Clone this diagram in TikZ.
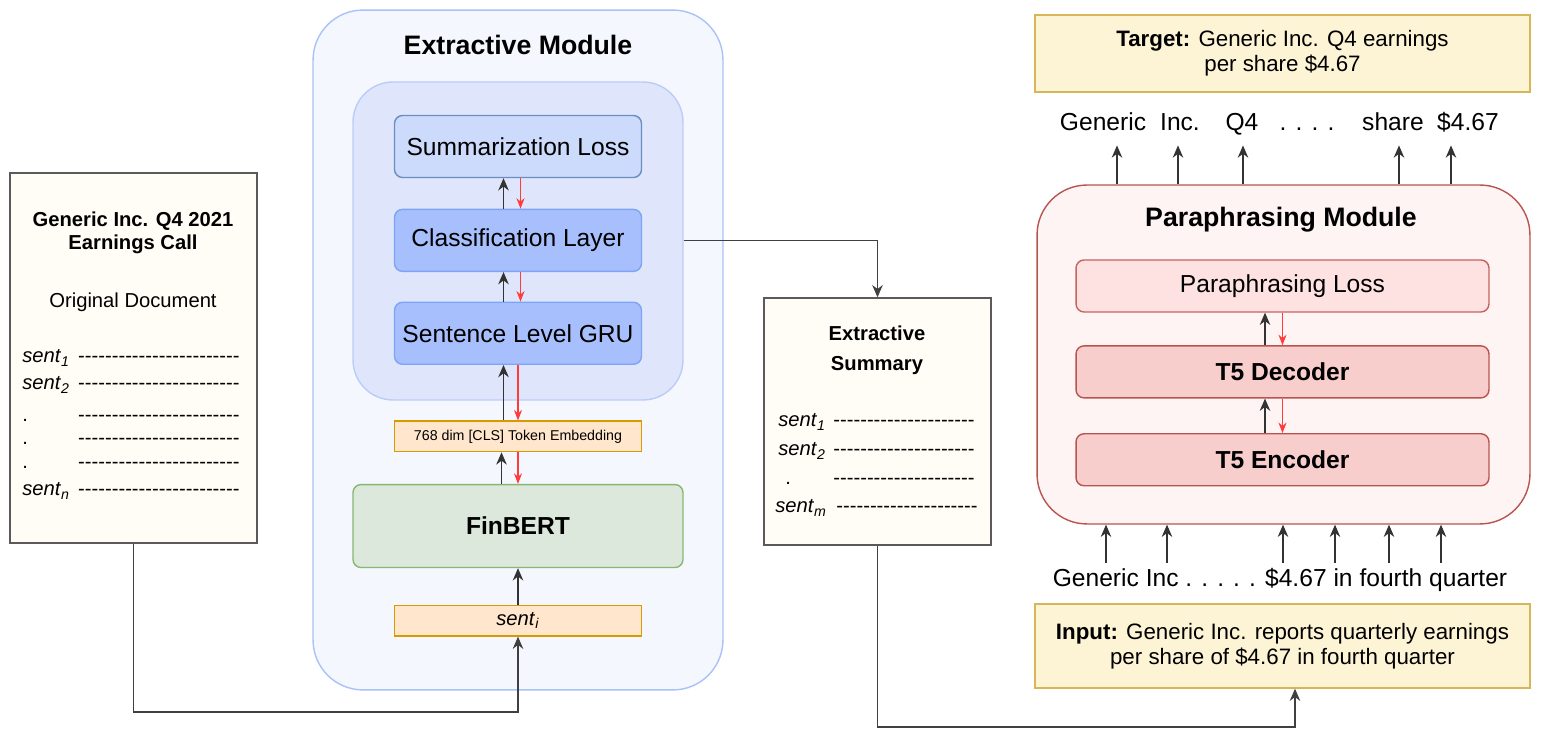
\documentclass[tikz,border=0pt]{standalone}
\usepackage{fontspec}
\setmainfont{Liberation Sans}
\usepackage{xcolor}
\usepackage{tikz}
\usetikzlibrary{arrows.meta,positioning,calc}

\definecolor{paperfill}{HTML}{FFFDF5}
\definecolor{paperline}{HTML}{5A5A5A}
\definecolor{extfill}{HTML}{F4F7FE}
\definecolor{extline}{HTML}{A9C2F7}
\definecolor{innerfill}{HTML}{DFE6FC}
\definecolor{innerline}{HTML}{BCCCF8}
\definecolor{lossfill}{HTML}{CCDAFC}
\definecolor{lossline}{HTML}{6C8EBF}
\definecolor{clsfill}{HTML}{A7BFFC}
\definecolor{clsline}{HTML}{7EA4F5}
\definecolor{embfill}{HTML}{FFE6CC}
\definecolor{embline}{HTML}{D79B00}
\definecolor{bertfill}{HTML}{DCE8DB}
\definecolor{bertline}{HTML}{88B770}
\definecolor{parafill}{HTML}{FFF4F4}
\definecolor{paraline}{HTML}{B85450}
\definecolor{plossfill}{HTML}{FEE1E1}
\definecolor{plossline}{HTML}{C4635F}
\definecolor{tfivefill}{HTML}{F8CECC}
\definecolor{notefill}{HTML}{FDF3D5}
\definecolor{noteline}{HTML}{D6B656}
\definecolor{gradred}{HTML}{FF3B3B}

\newcommand\modfont{\fontsize{15.2}{18}\selectfont\bfseries}
\newcommand\blkfont{\fontsize{14}{17}\selectfont}
\newcommand\docfont{\fontsize{11.5}{13}\selectfont}
\newcommand\notefont{\fontsize{12.7}{14.5}\selectfont}
\newcommand\embfont{\fontsize{8.1}{10}\selectfont}
\newcommand\sent[1]{\textit{sent}\textsubscript{\textit{#1}}}
\newcommand\dashrow[1]{\foreach\k in {1,...,#1}{-\kern0pt}}

\begin{document}
\begin{tikzpicture}[
    x=0.02cm, y=-0.02cm,
    every node/.style={inner sep=0pt, align=center},
    module/.style={rectangle, draw, rounded corners=1cm, line width=0.8pt},
    paper/.style={rectangle, draw=paperline, fill=paperfill, line width=0.8pt},
    block/.style={rectangle, draw, rounded corners=0.16cm, line width=0.8pt,
                  minimum width=4.94cm, minimum height=1.24cm, font=\blkfont},
    pblock/.style={block, minimum width=8.26cm, minimum height=1.04cm,
                   draw=paraline, fill=tfivefill},
    embbox/.style={rectangle, draw=embline, fill=embfill, line width=0.8pt,
                   minimum width=4.94cm, minimum height=0.61cm},
    note/.style={rectangle, draw=noteline, fill=notefill, line width=0.8pt,
                 minimum width=9.9cm, font=\notefont},
    row/.style={font=\docfont},
    tok/.style={font=\blkfont, text height=10pt, text depth=3pt, inner ysep=3pt},
    fwd/.style={-{Stealth[length=7pt,width=6pt]}, line width=0.6pt, draw=black!80},
    bwd/.style={-{Stealth[length=6pt,width=4.6pt]}, line width=0.6pt, draw=gradred},
    link/.style={-{Stealth[length=7pt,width=6pt]}, line width=0.6pt, draw=black!75},
]
\useasboundingbox (0,0) rectangle (1543,742);

% Original document
\node[paper, minimum width=4.94cm, minimum height=7.4cm] (doc) at (133.5,358) {};
\node[font=\docfont\bfseries] (doctitle) at (133,233) {Generic Inc. Q4 2021\\Earnings Call};
\node[font=\docfont] (doclabel) at (133,302) {Original Document};
\foreach \i/\y/\t in {1/363/\sent{1}, 2/390/\sent{2}, 3/422/., 4/445/., 5/469/., 6/496/\sent{n}} {
  \node[row, anchor=base west] (dl\i) at (22,\y) {\t};
  \node[row, anchor=base east] (dd\i) at (240,\y) {\dashrow{24}};
}

% Extractive module
\node[module, draw=extline, fill=extfill, minimum width=8.2cm, minimum height=13.6cm] (extr) at (518,350) {};
\node[font=\modfont] (extrtitle) at (518,45) {Extractive Module};
\node[module, rounded corners=0.8cm, draw=innerline, fill=innerfill,
      minimum width=6.6cm, minimum height=6.36cm] (inner) at (518,241) {};
\node[block, draw=lossline, fill=lossfill] (sloss) at (518,146.5) {Summarization Loss};
\node[block, draw=clsline, fill=clsfill, below=0.61cm of sloss] (cls) {Classification Layer};
\node[block, draw=clsline, fill=clsfill, below=0.59cm of cls] (gru) {Sentence Level GRU};
\node[embbox, font=\embfont, below=1.11cm of gru] (emb) {768 dim [CLS] Token Embedding};
\node[block, draw=bertline, fill=bertfill, minimum width=6.6cm, minimum height=1.66cm,
      font=\blkfont\bfseries, below=0.63cm of emb] (bert) {FinBERT};
\node[embbox, font=\docfont, below=0.73cm of bert] (senti) {\sent{i}};

% Extractive summary
\node[paper, minimum width=4.54cm, minimum height=4.94cm] (summ) at (877.5,421.5) {};
\node[font=\fontsize{11.5}{17}\selectfont\bfseries] (summtitle) at (877,350) {Extractive\\Summary};
\foreach \i/\y/\t/\lx/\rx in {1/427/\sent{1}/778/975, 2/456/\sent{2}/778/975, 3/485/./785/975, 4/513/\sent{m}/775/978} {
  \node[row, anchor=base west] (sl\i) at (\lx,\y) {\t};
  \node[row, anchor=base east] (sd\i) at (\rx,\y) {\dashrow{21}};
}

% Paraphrasing module
\node[note, minimum height=1.54cm] (target) at (1282.5,53.5) {\textbf{Target:} Generic Inc. Q4 earnings\\per share \$4.67};
\node[module, draw=paraline, fill=parafill, minimum width=9.86cm, minimum height=6.78cm] (para) at (1283.5,354.5) {};
\node[font=\modfont] (paratitle) at (1281,220) {Paraphrasing Module};
\node[pblock, draw=plossline, fill=plossfill] (ploss) at (1282.5,286) {Paraphrasing Loss};
\node[pblock, font=\blkfont\bfseries, below=0.65cm of ploss] (dec) {T5 Decoder};
\node[pblock, font=\blkfont\bfseries, below=0.69cm of dec] (enc) {T5 Encoder};
\node[note, minimum height=1.68cm] (input) at (1282.5,646) {\textbf{Input:} Generic Inc. reports quarterly earnings\\per share of \$4.67 in fourth quarter};

% Tokens
\node[tok] (intok) at (1280,580) {Generic Inc . . . . . \$4.67 in fourth quarter};
\node[tok] (outdots) at (1307,124) {. . . .};
\foreach \i/\x/\ax/\t in {1/1103/1117/Generic, 2/1180/1178/Inc., 3/1242/1243/Q4, 5/1393/1399/share, 6/1468/1451/\$4.67} {
  \node[tok] (out\i) at (\x,124) {\t};
  \draw[fwd, shorten >=2.5pt] (para.north -| \ax,0) -- (out\i.south -| \ax,0);
}
\foreach \x in {1106,1167,1283,1335,1389,1441}
  \draw[fwd] (intok.north -| \x,0) -- (para.south -| \x,0);

% Arrows
\draw[fwd] ([xshift=-0.29cm]cls.north) -- ([xshift=-0.29cm]sloss.south);
\draw[bwd] ([xshift=0.05cm]sloss.south) -- ([xshift=0.05cm]cls.north);
\draw[fwd] ([xshift=-0.29cm]gru.north) -- ([xshift=-0.29cm]cls.south);
\draw[bwd] ([xshift=0.05cm]cls.south) -- ([xshift=0.05cm]gru.north);
\draw[fwd] ([xshift=-0.29cm]emb.north) -- ([xshift=-0.29cm]gru.south);
\draw[bwd] (gru.south) -- (emb.north);
\draw[fwd] ([xshift=-0.33cm]bert.north) -- ([xshift=-0.33cm]emb.south);
\draw[bwd] (emb.south) -- (bert.north);
\draw[fwd] (senti.north) -- (bert.south);
\draw[fwd] ([xshift=-0.35cm]dec.north) -- ([xshift=-0.35cm]ploss.south);
\draw[bwd] (ploss.south) -- (dec.north);
\draw[fwd] ([xshift=-0.35cm]enc.north) -- ([xshift=-0.35cm]dec.south);
\draw[bwd] (dec.south) -- (enc.north);

% Links between modules
\coordinate (j1) at (518,712);
\coordinate (j2) at (1295,727);
\draw[link] (doc.south) |- (j1) -- (senti.south);
\draw[link] (inner.east |- cls.east) -| (summ.north);
\draw[link] (summ.south) |- (j2) -- (j2 |- input.south);
\end{tikzpicture}
\end{document}
